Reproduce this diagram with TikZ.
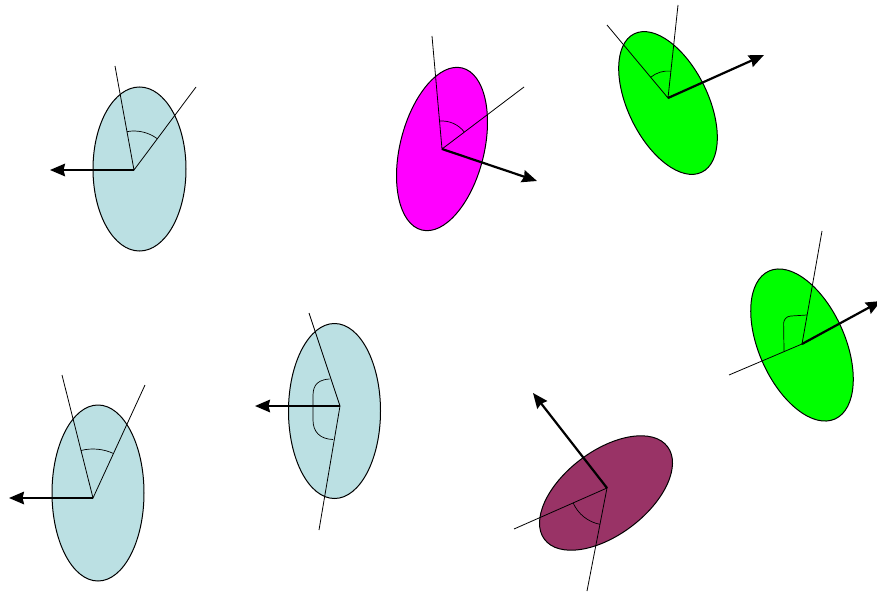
\documentclass[tikz,border=0pt]{standalone}
\usetikzlibrary{arrows.meta}
\definecolor{lblue}{RGB}{187,224,227}
\definecolor{magent}{RGB}{255,0,255}
\definecolor{lgreen}{RGB}{0,255,0}
\definecolor{maroon}{RGB}{153,51,102}
\tikzset{
  disc/.style={draw=black, line width=1pt},
  ray/.style={draw=black, line width=0.8pt},
  angmark/.style={draw=black, line width=0.7pt},
  vecarrow/.style={draw=black, line width=2.2pt, -{Stealth[length=15pt,width=12.5pt,inset=1.5pt]}}
}
\begin{document}
\begin{tikzpicture}[x=1pt,y=-1pt]
\useasboundingbox (0,0) rectangle (877,591);

% ---------- ellipse 1 (light blue, top left)
\coordinate (v1) at (134,170);
\coordinate (a1) at (115,66);
\coordinate (b1) at (196,87);
\coordinate (t1) at (50,170);
\draw[disc, fill=lblue] (139.5,169) ellipse [x radius=46.5, y radius=82];
\draw[ray] (a1) -- (v1) -- (b1);
\draw[angmark] (v1) ++(-100.4:39) arc[start angle=-100.4, end angle=-53.2, radius=39];
\draw[vecarrow] (v1) -- (t1);

% ---------- ellipse 2 (magenta)
\coordinate (v2) at (442,149);
\coordinate (a2) at (432,36);
\coordinate (b2) at (524,87);
\coordinate (t2) at (537,181);
\draw[disc, fill=magent, rotate around={-14:(442,149)}] (442,149) ellipse [x radius=42, y radius=83.5];
\draw[ray] (a2) -- (v2) -- (b2);
\draw[angmark] (v2) ++(-95.1:28) arc[start angle=-95.1, end angle=-37.1, radius=28];
\draw[vecarrow] (v2) -- (t2);

% ---------- ellipse 3 (green, top right)
\coordinate (v3) at (668,98);
\coordinate (a3) at (607,25);
\coordinate (b3) at (678,5);
\coordinate (t3) at (764,55);
\draw[disc, fill=lgreen, rotate around={26:(668,103)}] (668,103) ellipse [x radius=40, y radius=77];
\draw[ray] (a3) -- (v3) -- (b3);
\draw[angmark] (v3) ++(-129.9:27) arc[start angle=-129.9, end angle=-83.9, radius=27];
\draw[vecarrow] (v3) -- (t3);

% ---------- ellipse 4 (green, right)
\coordinate (v4) at (802,344);
\coordinate (a4) at (729,375);
\coordinate (b4) at (822,231);
\coordinate (t4) at (881,301);
\draw[disc, fill=lgreen, rotate around={24:(802,345)}] (802,345) ellipse [x radius=43, y radius=81];
\draw[ray] (a4) -- (v4) -- (b4);
\draw[angmark, rounded corners=7pt] (784,351) -- (783.5,316.5) -- (807,315);
\draw[vecarrow] (v4) -- (t4);

% ---------- ellipse 5 (light blue, bottom left)
\coordinate (v5) at (93,498);
\coordinate (a5) at (62,375);
\coordinate (b5) at (145,385);
\coordinate (t5) at (9,498);
\draw[disc, fill=lblue] (98,493) ellipse [x radius=46, y radius=88];
\draw[ray] (a5) -- (v5) -- (b5);
\draw[angmark] (v5) ++(-104.1:49) arc[start angle=-104.1, end angle=-65.3, radius=49];
\draw[vecarrow] (v5) -- (t5);

% ---------- ellipse 6 (light blue, bottom middle)
\coordinate (v6) at (340,406);
\coordinate (a6) at (309,313);
\coordinate (b6) at (319,530);
\coordinate (t6) at (255,406);
\draw[disc, fill=lblue] (334.5,411) ellipse [x radius=46, y radius=87.5];
\draw[ray] (a6) -- (v6) -- (b6);
\draw[angmark] (329.5,379) .. controls (314,380) and (313,389) .. (313,397)
  -- (313,420) .. controls (313,432) and (320,439) .. (333,439.5);
\draw[vecarrow] (v6) -- (t6);

% ---------- ellipse 7 (maroon, bottom)
\coordinate (v7) at (607,488);
\coordinate (a7) at (514,529);
\coordinate (b7) at (587,591);
\coordinate (t7) at (533,393);
\draw[disc, fill=maroon, rotate around={37:(606,493)}] (606,493) ellipse [x radius=77, y radius=42];
\draw[ray] (a7) -- (v7) -- (b7);
\draw[angmark] (v7) ++(101:37) arc[start angle=101, end angle=156.2, radius=37];
\draw[vecarrow] (v7) -- (t7);
\end{tikzpicture}
\end{document}
